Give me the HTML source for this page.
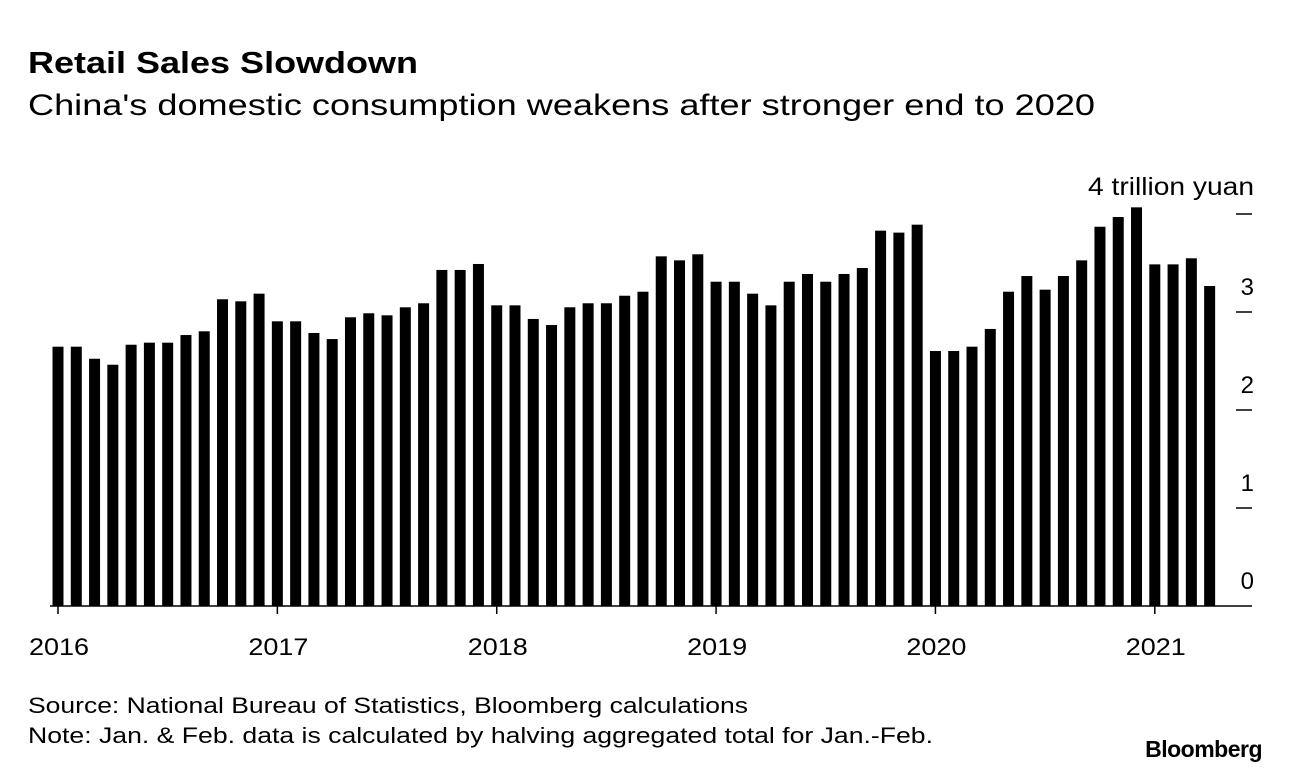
<!DOCTYPE html>
<html><head><meta charset="utf-8"><style>
body{margin:0;background:#fff;width:1289px;height:774px;overflow:hidden;font-family:"Liberation Sans",sans-serif;}
</style></head><body>
<svg width="1289" height="774" font-family="Liberation Sans, sans-serif">
<text x="28" y="73" font-size="31" font-weight="bold" textLength="390" lengthAdjust="spacingAndGlyphs">Retail Sales Slowdown</text>
<text x="28" y="115" font-size="30" textLength="1067" lengthAdjust="spacingAndGlyphs">China's domestic consumption weakens after stronger end to 2020</text>
<text x="1254" y="195" font-size="25" text-anchor="end" textLength="166" lengthAdjust="spacingAndGlyphs">4 trillion yuan</text>
<g id="bars"></g><g id="axes"></g>
<text x="28" y="713" font-size="22" textLength="720" lengthAdjust="spacingAndGlyphs">Source: National Bureau of Statistics, Bloomberg calculations</text>
<text x="28" y="743" font-size="22" textLength="905" lengthAdjust="spacingAndGlyphs">Note: Jan. &amp; Feb. data is calculated by halving aggregated total for Jan.-Feb.</text>
<text x="1262" y="757" font-size="23" font-weight="bold" text-anchor="end" letter-spacing="-0.5">Bloomberg</text>
</svg>
<script>
const values=[2.646,2.646,2.523,2.462,2.666,2.687,2.687,2.765,2.803,3.130,3.109,3.187,
2.905,2.905,2.786,2.724,2.946,2.987,2.966,3.048,3.089,3.429,3.429,3.490,
3.068,3.068,2.929,2.867,3.048,3.089,3.089,3.166,3.207,3.568,3.527,3.589,
3.309,3.309,3.187,3.068,3.309,3.388,3.309,3.388,3.449,3.830,3.810,3.891,
2.602,2.602,2.646,2.827,3.207,3.367,3.228,3.367,3.527,3.870,3.969,4.068,
3.486,3.486,3.548,3.265];
const years=["2016","2017","2018","2019","2020","2021"];
const yTicks=[0,1,2,3,4];
const NS="http://www.w3.org/2000/svg";
const y0=606,pxPer=98,x0=58,step=18.28,bw=11;
const xs=i=>x0+i*step, ys=v=>y0-v*pxPer;
const bars=document.getElementById('bars'),axes=document.getElementById('axes');
function mk(t,a,p){const e=document.createElementNS(NS,t);for(const k in a)e.setAttribute(k,a[k]);p.appendChild(e);return e;}
values.forEach((v,i)=>{
const r=mk('rect',{x:xs(i)-bw/2,y:ys(v),width:bw,height:v*pxPer,fill:'#000'},bars);


});
const base=mk('line',{x1:50,x2:1252,y1:y0,y2:y0,stroke:'#000','stroke-width':1.5},axes);


years.forEach((y,k)=>{
const x=xs(k*12);
const t=mk('line',{x1:x,x2:x,y1:y0,y2:y0+8,stroke:'#000','stroke-width':1.5},axes);


const l=mk('text',{x:x+1,y:655,'font-size':24,'text-anchor':'middle',textLength:60,lengthAdjust:'spacingAndGlyphs'},axes);
l.textContent=y;


});
yTicks.forEach(v=>{
const y=ys(v);
if(v>0){const t=mk('line',{x1:1236,x2:1252,y1:y,y2:y,stroke:'#000','stroke-width':1.5},axes);

}
if(v<4){const l=mk('text',{x:1254,y:y-17,'font-size':24,'text-anchor':'end'},axes);
l.textContent=v;

}
});
</script>
</body></html>
